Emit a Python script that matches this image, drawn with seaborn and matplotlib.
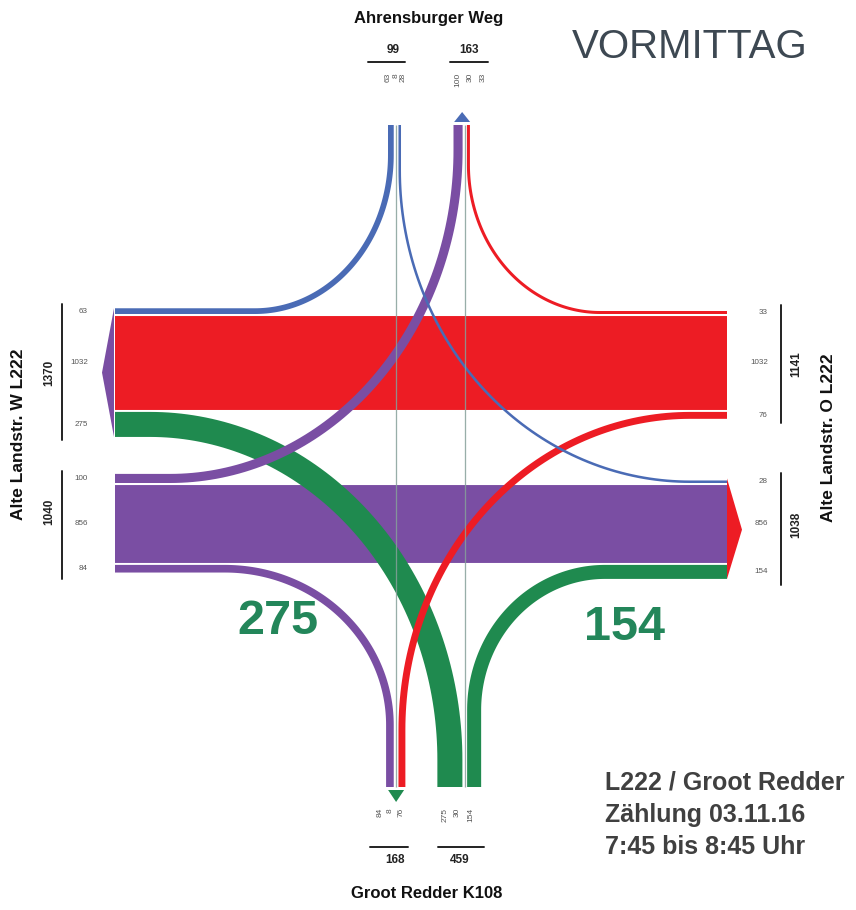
import numpy as np
import pandas as pd
import matplotlib
matplotlib.use("Agg")
import matplotlib.pyplot as plt
import seaborn as sns

# ---------------- data ----------------
flow_from = ["N", "N", "N", "E", "E", "E", "W", "W", "W", "S", "S", "S"]
flow_to   = ["W", "S", "E", "N", "W", "S", "N", "E", "S", "W", "N", "E"]
flow_val  = [63, 8, 28, 33, 1032, 76, 100, 856, 84, 275, 30, 154]

west_out_vals = [63, 1032, 275]
west_in_vals = [100, 856, 84]
east_in_vals = [33, 1032, 76]
east_out_vals = [28, 856, 154]
north_in_vals = [63, 8, 28]
north_out_vals = [100, 30, 33]
south_out_vals = [84, 8, 76]
south_in_vals = [275, 30, 154]
totals = {"west_out": 1370, "west_in": 1040, "east_in": 1141, "east_out": 1038,
          "north_in": 99, "north_out": 163, "south_out": 168, "south_in": 459}
big_labels = [275, 154]

title = "VORMITTAG"
road_n = "Ahrensburger Weg"
road_s = "Groot Redder K108"
road_w = "Alte Landstr. W L222"
road_e = "Alte Landstr. O L222"
info_lines = ["L222 / Groot Redder", "Zählung 03.11.16", "7:45 bis 8:45 Uhr"]

# ---------------- style ----------------
sns.set_theme(style="white")
plt.rcParams["font.family"] = ["Liberation Sans", "DejaVu Sans"]

RED = "#ed1c24"
PURPLE = "#7a4ea3"
GREEN = "#1f8a4f"
BLUE = "#4a6bb5"
GRAY_LINE = "#86a09a"
TXT = "#404040"

DPI = 100
W, H = 856, 910
S = 0.091  # px per vehicle

fig = plt.figure(figsize=(W / DPI, H / DPI), dpi=DPI)
ax = fig.add_axes([0, 0, 1, 1])
ax.set_xlim(0, W)
ax.set_ylim(H, 0)
ax.axis("off")

val = {(f, t): v for f, t, v in zip(flow_from, flow_to, flow_val)}
color_of = {"N": BLUE, "E": RED, "W": PURPLE, "S": GREEN}

# ---------------- layout ----------------
X_W, X_E = 115, 727
Y_N, Y_S = 125, 787
GAP = 2.0
Y_RED_TOP = 316
Y_PUR_TOP = 485


def stack(start, keys, gap=GAP):
    pos = {}
    p = start
    for k in keys:
        w = val[k] * S
        pos[k] = (p + w / 2, w)
        p += w + gap
    return pos, p - gap


west_out_keys = [("N", "W"), ("E", "W"), ("S", "W")]
west_in_keys = [("W", "N"), ("W", "E"), ("W", "S")]
east_in_keys = [("E", "N"), ("E", "W"), ("E", "S")]
east_out_keys = [("N", "E"), ("W", "E"), ("S", "E")]
north_in_keys = [("N", "W"), ("N", "S"), ("N", "E")]
north_out_keys = [("W", "N"), ("S", "N"), ("E", "N")]
south_out_keys = [("W", "S"), ("N", "S"), ("E", "S")]
south_in_keys = [("S", "W"), ("S", "N"), ("S", "E")]

wo_start = Y_RED_TOP - GAP - val[("N", "W")] * S
west_out, wo_end = stack(wo_start, west_out_keys)
west_in, wi_end = stack(Y_PUR_TOP - GAP - val[("W", "N")] * S, west_in_keys)
ei_start = Y_RED_TOP - GAP - val[("E", "N")] * S
east_in, ei_end = stack(ei_start, east_in_keys)
eo_start = Y_PUR_TOP - GAP - val[("N", "E")] * S
east_out, eo_end = stack(eo_start, east_out_keys)

north_in, ni_end = stack(388, north_in_keys)
no_start = 453.5
north_out, no_end = stack(no_start, north_out_keys, gap=0.8)
x_ns = north_in[("N", "S")][0]
x_sn = north_out[("S", "N")][0]
so_start = x_ns - val[("N", "S")] * S / 2 - GAP - val[("W", "S")] * S
south_out, so_end = stack(so_start, south_out_keys)
si_start = x_sn - val[("S", "N")] * S / 2 - 1.0 - val[("S", "W")] * S
south_in, si_end = stack(si_start, south_in_keys, gap=1.0)

# arc centres for turning movements
arc_centre = {
    ("N", "W"): (255, 155),
    ("N", "E"): (690, 170),
    ("E", "N"): (600, 165),
    ("E", "S"): (690, 730),
    ("W", "N"): (170, 150),
    ("W", "S"): (225, 725),
    ("S", "W"): (150, 760),
    ("S", "E"): (605, 710),
}


def side_lane(key):
    f, t = key
    if t == "W":
        return X_W, west_out[key]
    if f == "W":
        return X_W, west_in[key]
    if f == "E":
        return X_E, east_in[key]
    return X_E, east_out[key]


def col_lane(key):
    f, t = key
    if f == "N":
        return Y_N, north_in[key]
    if t == "N":
        return Y_N, north_out[key]
    if t == "S":
        return Y_S, south_out[key]
    return Y_S, south_in[key]


def draw_path(xs, ys, width_px, color, z, alpha=1.0):
    df = pd.DataFrame({"x": xs, "y": ys})
    sns.lineplot(data=df, x="x", y="y", sort=False, estimator=None, color=color,
                 linewidth=max(width_px, 1.0) * 72 / DPI, ax=ax, zorder=z,
                 solid_capstyle="butt", solid_joinstyle="round", alpha=alpha)


zorders = {"S": 3, "E": 4, "W": 5, "N": 6}

# straight horizontal bands
for key in [("E", "W"), ("W", "E")]:
    (yc_, w) = east_in[key] if key[0] == "E" else west_in[key]
    draw_path([X_E, X_W] if key[0] == "E" else [X_W, X_E], [yc_, yc_], w,
              color_of[key[0]], 2)

# turning movements
t = np.linspace(0, np.pi / 2, 80)
for key, (xc, yc) in arc_centre.items():
    sx, (ly, lw) = side_lane(key)
    cy, (lx, _) = col_lane(key)
    ax_ = xc + (lx - xc) * np.cos(t)
    ay_ = yc + (ly - yc) * np.sin(t)
    xs = [lx] + list(ax_) + [sx]
    ys = [cy] + list(ay_) + [ly]
    draw_path(xs, ys, lw, color_of[key[0]], zorders[key[0]])

# straight vertical movements (thin)
for key in [("N", "S"), ("S", "N")]:
    x = x_ns if key[0] == "N" else x_sn
    draw_path([x, x], [Y_N, Y_S], 1.3, GRAY_LINE, 8, alpha=0.85)

# direction markers
ax.fill([X_W - 1, X_W - 13, X_W - 1], [wo_start, (wo_start + wo_end) / 2, wo_end],
        color=PURPLE, zorder=3, lw=0)
ax.fill([X_E, X_E + 15, X_E], [eo_start - 2, (eo_start + eo_end) / 2, eo_end],
        color=RED, zorder=3, lw=0)
xm = (no_start + north_out[("S", "N")][0]) / 2 + 3
ax.fill([xm - 8, xm, xm + 8], [Y_N - 3, Y_N - 13, Y_N - 3], color=BLUE, zorder=3, lw=0)
xm2 = x_ns
ax.fill([xm2 - 8, xm2, xm2 + 8], [Y_S + 3, Y_S + 15, Y_S + 3], color=GREEN, zorder=3, lw=0)

# ---------------- texts ----------------
small = dict(fontsize=5.8, color="#555555")
rot_small = dict(fontsize=6, color="#555555")
tot = dict(fontsize=8.5, fontweight="bold", color="#222222")

# side value labels
for grp in (west_out, west_in):
    for k, (yc_, w) in grp.items():
        ax.text(88, yc_, f"{val[k]}", ha="right", va="center", **small)
for grp in (east_in, east_out):
    for k, (yc_, w) in grp.items():
        ax.text(768, yc_, f"{val[k]}", ha="right", va="center", **small)

# brackets and totals
bk = dict(color="#222222", lw=1.4)
ax.plot([62, 62], [wo_start - 4, wo_end + 3], **bk)
ax.plot([62, 62], [west_in[("W", "N")][0] - 7, wi_end + 6], **bk)
ax.plot([781, 781], [ei_start - 6, ei_end + 4], **bk)
ax.plot([781, 781], [eo_start - 7, eo_end + 6], **bk)
ax.text(49, (wo_start + wo_end) / 2, f"{totals['west_out']}", rotation=90, ha="center",
        va="center", **tot)
ax.text(49, 512, f"{totals['west_in']}", rotation=90, ha="center", va="center", **tot)
ax.text(796, 364, f"{totals['east_in']}", rotation=90, ha="center", va="center", **tot)
ax.text(796, 525, f"{totals['east_out']}", rotation=90, ha="center", va="center", **tot)

# top labels
ax.plot([368, 405], [62, 62], **bk)
ax.plot([450, 488], [62, 62], **bk)
ax.text(393, 50, f"{totals['north_in']}", ha="center", va="center", **tot)
ax.text(469, 50, f"{totals['north_out']}", ha="center", va="center", **tot)
for x, v in zip([388, 396, 403.5], north_in_vals):
    ax.text(x, 73, f"{v}", rotation=90, ha="center", va="top", **rot_small)
for x, v in zip([458, 470.5, 483], north_out_vals):
    ax.text(x, 73, f"{v}", rotation=90, ha="center", va="top", **rot_small)

# bottom labels
ax.plot([370, 408], [847, 847], **bk)
ax.plot([438, 484], [847, 847], **bk)
ax.text(395, 860, f"{totals['south_out']}", ha="center", va="center", **tot)
ax.text(460, 860, f"{totals['south_in']}", ha="center", va="center", **tot)
for x, v in zip([380, 390, 401], south_out_vals):
    ax.text(x, 808, f"{v}", rotation=90, ha="center", va="top", **rot_small)
for x, v in zip([445, 457, 471], south_in_vals):
    ax.text(x, 808, f"{v}", rotation=90, ha="center", va="top", **rot_small)

# road names
ax.text(429, 18, road_n, ha="center", va="center", fontsize=12, fontweight="bold", color="#111111")
ax.text(427, 894, road_s, ha="center", va="center", fontsize=12, fontweight="bold", color="#111111")
ax.text(19, 434, road_w, rotation=90, ha="center", va="center", fontsize=12.5,
        fontweight="bold", color="#111111")
ax.text(829, 438, road_e, rotation=90, ha="center", va="center", fontsize=12.5,
        fontweight="bold", color="#111111")

# title
ax.text(690, 47, title, ha="center", va="center", fontsize=29, color="#3d4852")

# big numbers
ax.text(278, 622, f"{big_labels[0]}", ha="center", va="center", fontsize=35,
        fontweight="bold", color="#23865a")
ax.text(625, 628, f"{big_labels[1]}", ha="center", va="center", fontsize=35,
        fontweight="bold", color="#23865a")

# info block
for i, line in enumerate(info_lines):
    ax.text(605, 783 + i * 32, line, ha="left", va="center", fontsize=18,
            fontweight="bold", color=TXT)

fig.savefig("out.png", dpi=DPI)
